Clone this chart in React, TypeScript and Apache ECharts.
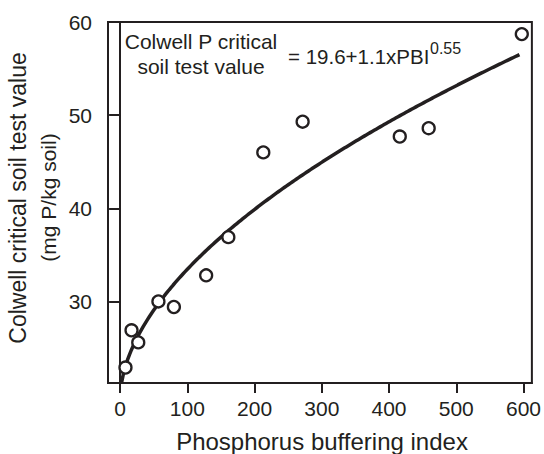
import React, { useEffect, useRef } from "react";
import * as echarts from "echarts";

// Observed data: phosphorus buffering index (PBI) vs Colwell critical soil test value
const pbi = [8, 17, 27, 57, 80, 128, 161, 213, 271.5, 416, 459, 597.5];
const colwellCritical = [22.9, 26.9, 25.6, 30.0, 29.4, 32.8, 36.9, 46.0, 49.3, 47.7, 48.6, 58.7];

// Fitted curve as printed on the chart: y = 19.6 + 1.1 * PBI^0.55
const fitCoefficients = [19.6, 1.1, 0.55];
const fitRange = [2, 594];

const xTicks = [0, 100, 200, 300, 400, 500, 600];
const yTicks = [30, 40, 50, 60];

const INK = "#231f20";
const FONT = "'Liberation Sans', Arial, Helvetica, sans-serif";

export default function App() {
  const ref = useRef<HTMLDivElement>(null);

  useEffect(() => {
    if (!ref.current) return;
    const chart = echarts.init(ref.current, null, { renderer: "svg" });

    const [a, b, c] = fitCoefficients;
    const curve: number[][] = [];
    const n = 200;
    for (let i = 0; i <= n; i++) {
      const x = fitRange[0] + ((fitRange[1] - fitRange[0]) * i) / n;
      curve.push([x, a + b * Math.pow(x, c)]);
    }

    chart.setOption({
      animation: false,
      backgroundColor: "#ffffff",
      textStyle: { fontFamily: FONT, color: INK },
      grid: {
        left: 108,
        right: 8,
        top: 22,
        bottom: 71,
        show: true,
        borderColor: INK,
        borderWidth: 2,
        backgroundColor: "transparent",
      },
      xAxis: {
        type: "value",
        min: -18,
        max: 612.5,
        splitLine: { show: false },
        axisLine: { show: true, lineStyle: { color: INK, width: 2 } },
        axisTick: {
          show: true,
          length: 10,
          customValues: xTicks,
          lineStyle: { color: INK, width: 2 },
        },
        axisLabel: {
          customValues: xTicks,
          margin: 15,
          fontSize: 21,
          color: INK,
          fontFamily: FONT,
        },
      },
      yAxis: {
        type: "value",
        min: 21.24,
        max: 60,
        splitLine: { show: false },
        axisLine: { show: true, lineStyle: { color: INK, width: 2 } },
        axisTick: {
          show: true,
          length: 11,
          customValues: yTicks,
          lineStyle: { color: INK, width: 2 },
        },
        axisLabel: {
          customValues: yTicks,
          margin: 16,
          fontSize: 21,
          color: INK,
          fontFamily: FONT,
        },
      },
      series: [
        {
          type: "line",
          data: curve,
          showSymbol: false,
          symbol: "none",
          clip: true,
          lineStyle: { color: INK, width: 3.5 },
          z: 2,
        },
        {
          type: "scatter",
          data: pbi.map((x, i) => [x, colwellCritical[i]]),
          symbol: "circle",
          symbolSize: 12,
          itemStyle: { color: "#ffffff", borderColor: INK, borderWidth: 2.3, opacity: 1 },
          z: 3,
        },
      ],
      graphic: [
        {
          type: "text",
          x: 17.5,
          y: 198,
          rotation: Math.PI / 2,
          style: {
            text: "Colwell critical soil test value",
            font: `23px ${FONT}`,
            fill: INK,
            align: "center",
            verticalAlign: "middle",
          },
        },
        {
          type: "text",
          x: 48,
          y: 197.5,
          rotation: Math.PI / 2,
          style: {
            text: "(mg P/kg soil)",
            font: `21px ${FONT}`,
            fill: INK,
            align: "center",
            verticalAlign: "middle",
          },
        },
        {
          type: "text",
          x: 322,
          y: 441.5,
          style: {
            text: "Phosphorus buffering index",
            font: `24px ${FONT}`,
            fill: INK,
            align: "center",
            verticalAlign: "middle",
          },
        },
        {
          type: "text",
          x: 201,
          y: 41,
          style: {
            text: "Colwell P critical",
            font: `21px ${FONT}`,
            fill: INK,
            align: "center",
            verticalAlign: "middle",
          },
        },
        {
          type: "text",
          x: 201,
          y: 66,
          style: {
            text: "soil test value",
            font: `21px ${FONT}`,
            fill: INK,
            align: "center",
            verticalAlign: "middle",
          },
        },
        {
          type: "text",
          x: 288,
          y: 56,
          style: {
            text: "= 19.6+1.1xPBI",
            font: `20.5px ${FONT}`,
            fill: INK,
            align: "left",
            verticalAlign: "middle",
          },
        },
        {
          type: "text",
          x: 430,
          y: 48.5,
          style: {
            text: "0.55",
            font: `16px ${FONT}`,
            fill: INK,
            align: "left",
            verticalAlign: "middle",
          },
        },
      ],
    });

    return () => {
      chart.dispose();
    };
  }, []);

  return (
    <div
      ref={ref}
      style={{ position: "fixed", left: 0, top: 0, width: 544, height: 454 }}
    />
  );
}
